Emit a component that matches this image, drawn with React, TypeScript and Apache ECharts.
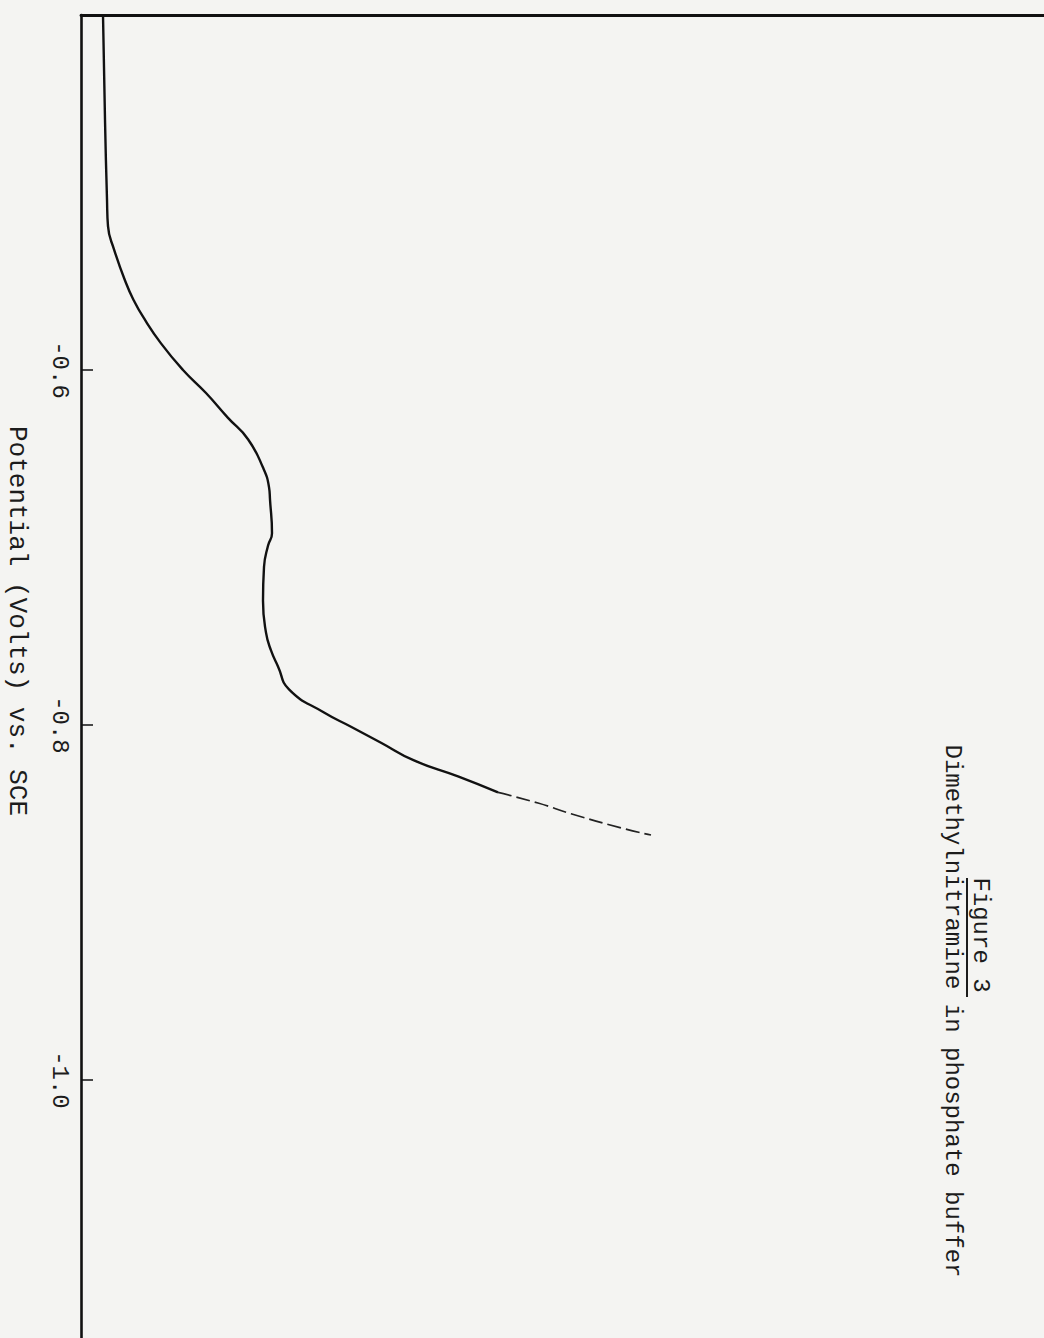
import React, { useEffect, useRef } from "react";
import * as echarts from "echarts";

// Potential (V vs. SCE) along the vertical axis; current (arbitrary units) horizontally
const currentMain = [2.2, 2.4, 2.6, 2.7, 3.3, 4.5, 5.3, 6.2, 8.0, 10.2, 12.5, 14.7, 16.7, 18.2, 18.8, 18.9, 19.1, 18.7, 18.3, 18.2, 18.5, 19.0, 19.7, 20.8, 24.3, 27.0, 30.0, 33.3, 37.7, 41.7];
const potentialMain = [-0.4, -0.459, -0.504, -0.519, -0.532, -0.551, -0.561, -0.57, -0.585, -0.6, -0.613, -0.627, -0.639, -0.655, -0.666, -0.673, -0.692, -0.699, -0.711, -0.73, -0.748, -0.758, -0.767, -0.78, -0.793, -0.801, -0.81, -0.82, -0.829, -0.838];
const currentTail = [41.7, 45.7, 49.0, 54.0, 57.0];
const potentialTail = [-0.838, -0.844, -0.85, -0.858, -0.862];
const potentialTicks = [-0.6, -0.8, -1.0];

const axisTitle = "Potential (Volts) vs. SCE";
const figureTitle = "Figure 3";
const figureSubtitle = "Dimethylnitramine in phosphate buffer";

const FONT = "'Liberation Mono', 'DejaVu Sans Mono', monospace";
const INK = "#111111";
const TEXT = "#1c1c1c";

export default function App() {
  const ref = useRef<HTMLDivElement>(null);
  useEffect(() => {
    if (!ref.current) return;
    const chart = echarts.init(ref.current, null, { renderer: "svg" });
    const main = currentMain.map((c, i) => [c, potentialMain[i]]);
    const tail = currentTail.map((c, i) => [c, potentialTail[i]]);
    chart.setOption({
      animation: false,
      backgroundColor: "#f4f4f2",
      grid: { left: 81, right: 0, top: 15, bottom: 0, containLabel: false },
      xAxis: {
        type: "value",
        min: 0,
        max: 96.3,
        position: "top",
        axisLine: { show: true, onZero: false, lineStyle: { color: INK, width: 2.8 } },
        axisTick: { show: false },
        axisLabel: { show: false },
        splitLine: { show: false },
      },
      yAxis: {
        type: "value",
        min: -1.1454,
        max: -0.4,
        axisLine: { show: true, onZero: false, lineStyle: { color: INK, width: 2.6 } },
        axisTick: {
          show: true,
          inside: true,
          length: 12,
          customValues: potentialTicks,
          lineStyle: { color: INK, width: 1.5 },
        },
        axisLabel: {
          show: true,
          customValues: potentialTicks,
          rotate: -90,
          margin: 10,
          formatter: (v: number) => v.toFixed(1),
          fontFamily: FONT,
          fontSize: 24,
          color: TEXT,
        },
        splitLine: { show: false },
      },
      series: [
        {
          type: "line",
          data: main,
          showSymbol: false,
          smooth: 0.5,
          lineStyle: { color: INK, width: 2.4 },
        },
        {
          type: "line",
          data: tail,
          showSymbol: false,
          smooth: 0.5,
          lineStyle: { color: "#222", width: 1.7, type: [14, 5] },
        },
      ],
      graphic: [
        {
          type: "text",
          x: 17,
          y: 621,
          rotation: -Math.PI / 2,
          style: { text: axisTitle, font: `26px ${FONT}`, fill: TEXT, align: "center", verticalAlign: "middle" },
        },
        {
          type: "text",
          x: 980,
          y: 935,
          rotation: -Math.PI / 2,
          style: { text: figureTitle, font: `24px ${FONT}`, fill: TEXT, align: "center", verticalAlign: "middle" },
        },
        {
          type: "line",
          shape: { x1: 967, y1: 878, x2: 967, y2: 997 },
          style: { stroke: TEXT, lineWidth: 2 },
        },
        {
          type: "text",
          x: 952,
          y: 1011,
          rotation: -Math.PI / 2,
          style: { text: figureSubtitle, font: `24px ${FONT}`, fill: TEXT, align: "center", verticalAlign: "middle" },
        },
      ],
    });
    return () => chart.dispose();
  }, []);
  return <div ref={ref} style={{ position: "fixed", left: 0, top: 0, width: 1044, height: 1338 }} />;
}
